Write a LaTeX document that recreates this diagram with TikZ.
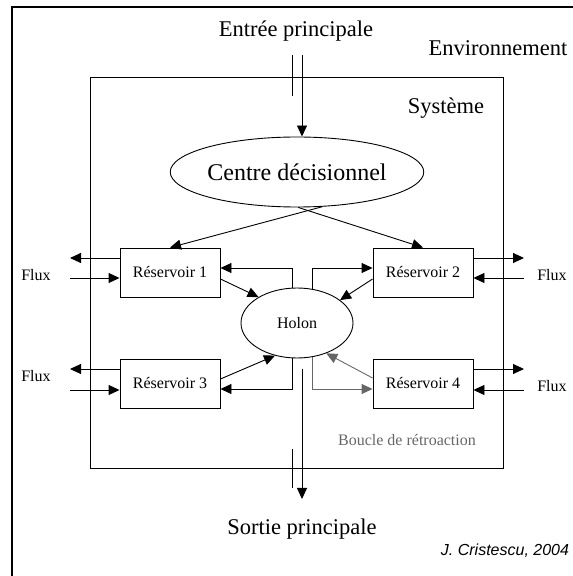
\documentclass[tikz,border=0pt]{standalone}
\usepackage{fontspec}
\setmainfont{Liberation Serif}
\setsansfont{Liberation Sans}
\usetikzlibrary{arrows.meta,shapes.geometric}

\begin{document}
\begin{tikzpicture}[x=1pt,y=1pt,>={Triangle[length=11pt,width=10pt]},line width=.9pt,
  big/.style={inner sep=0pt,font=\fontsize{22.5}{26}\selectfont},
  small/.style={inner sep=0pt,font=\fontsize{16}{18}\selectfont},
  resbox/.style={draw,minimum width=100pt,minimum height=49pt,small},
  fb/.style={draw=black!60}]
 \useasboundingbox (0,0) rectangle (573,576);
 % cadres
 \draw[line width=1.2pt] (12,0) -- (12,569) -- (573,569);
 \draw (90,108) rectangle (503,499);
 \node[big] (en) at (296,545) {Entrée principale};
 \node[big] (env) at (498,528) {Environnement};
 \node[big] (sys) at (446,468) {Système};
 \node[big] (so) at (302,47) {Sortie principale};
 \node[font=\sffamily\itshape\fontsize{16}{19}\selectfont,inner sep=0pt] (cr) at (505,25) {J. Cristescu, 2004};
 % noeuds
 \node[ellipse,draw,minimum width=240pt,minimum height=70pt,big,font=\fontsize{24}{28}\selectfont] (cd) at (297,404) {Centre décisionnel};
 \node[ellipse,draw,minimum width=112pt,minimum height=70pt,small] (ho) at (297,253) {Holon};
 \node[resbox] (r1) at (170,303.5) {Réservoir 1};
 \node[resbox] (r2) at (423,303.5) {Réservoir 2};
 \node[resbox] (r3) at (170,192.5) {Réservoir 3};
 \node[resbox] (r4) at (423,192.5) {Réservoir 4};
 \node[small] (fx1) at (36,301) {Flux};
 \node[small] (fx3) at (36,200) {Flux};
 \node[small] (fx2) at (552,301) {Flux};
 \node[small] (fx4) at (552,190) {Flux};
 \node[small,text=black!60] (bo) at (407,136) {Boucle de rétroaction};
 % entree / sortie
 \coordinate (ein) at (302,521);
 \coordinate (eb1) at (292,521);
 \coordinate (eb2) at (292,480);
 \draw[->] (ein) -- (ein |- cd.north);
 \draw (eb1) -- (eb2);
 \coordinate (sin) at (302,207);
 \coordinate (sout) at (302,77);
 \coordinate (sb1) at (292,127);
 \coordinate (sb2) at (292,88);
 \draw[->] (sin) -- (sout);
 \draw (sb1) -- (sb2);
 % centre -> reservoirs
 \draw[->] (cd.-54) -- (r1.north);
 \draw[->] (cd.-88) -- (r2.north);
 % flux
 \coordinate (l1) at (70,318);
 \coordinate (l2) at (70,298);
 \coordinate (l3) at (70,207);
 \coordinate (l4) at (70,186);
 \coordinate (q1) at (524,318);
 \coordinate (q2) at (524,298);
 \coordinate (q3) at (524,207);
 \coordinate (q4) at (524,186);
 \draw[->] (r1.west |- l1) -- (l1);
 \draw[->] (l2) -- (r1.west |- l2);
 \draw[->] (r3.west |- l3) -- (l3);
 \draw[->] (l4) -- (r3.west |- l4);
 \draw[->] (r2.east |- q1) -- (q1);
 \draw[->] (q2) -- (r2.east |- q2);
 \draw[->] (r4.east |- q3) -- (q3);
 \draw[->] (q4) -- (r4.east |- q4);
 % holon
 \draw[->] (ho.98) |- ([yshift=4.5pt]r1.east);
 \draw[->] ([yshift=-6.5pt]r1.east) -- (ho.146);
 \draw[->] (ho.66) |- ([yshift=4.5pt]r2.west);
 \draw[->] ([yshift=-6.5pt]r2.west) -- (ho.28);
 \draw[->] ([yshift=4.5pt]r3.east) -- (ho.236);
 \draw[->] (ho.-98) |- ([yshift=-5.5pt]r3.east);
 \draw[->,fb] ([yshift=5.5pt]r4.west) -- (ho.-46);
 \draw[->,fb] (ho.-66) |- ([yshift=-5.5pt]r4.west);
\end{tikzpicture}
\end{document}
